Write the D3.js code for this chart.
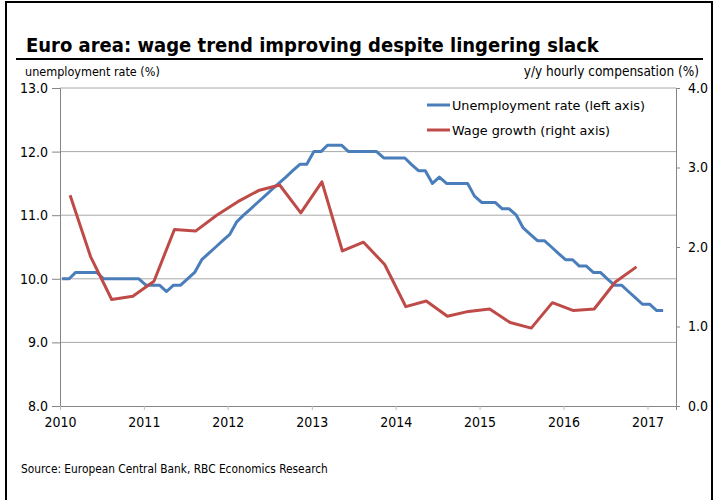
<!DOCTYPE html>
<html lang="en">
	<head>
		<meta charset="utf-8">
		<title>Euro area: wage trend</title>
		<script type="text/javascript" src="https://cdn.jsdelivr.net/npm/d3@7"></script>
		<style type="text/css">
			body { margin: 0; background: #fff; }
			text { font-family: "DejaVu Sans Condensed", "DejaVu Sans", sans-serif; fill: #000; }
		</style>
	</head>

	<body>
		<script type="text/javascript">
			/* monthly unemployment rate, Jan 2010 - Mar 2017 (left axis, %) */
			var unemployment = [
				10.0, 10.0, 10.1, 10.1, 10.1, 10.1, 10.0, 10.0, 10.0, 10.0, 10.0, 10.0,
				9.9, 9.9, 9.9, 9.8, 9.9, 9.9, 10.0, 10.1, 10.3, 10.4, 10.5, 10.6,
				10.7, 10.9, 11.0, 11.1, 11.2, 11.3, 11.4, 11.5, 11.6, 11.7, 11.8, 11.8,
				12.0, 12.0, 12.1, 12.1, 12.1, 12.0, 12.0, 12.0, 12.0, 12.0, 11.9, 11.9,
				11.9, 11.9, 11.8, 11.7, 11.7, 11.5, 11.6, 11.5, 11.5, 11.5, 11.5, 11.3,
				11.2, 11.2, 11.2, 11.1, 11.1, 11.0, 10.8, 10.7, 10.6, 10.6, 10.5, 10.4,
				10.3, 10.3, 10.2, 10.2, 10.1, 10.1, 10.0, 9.9, 9.9, 9.8, 9.7, 9.6,
				9.6, 9.5, 9.5 ];
			/* quarterly wage growth, Q1 2010 - Q4 2016 (right axis, y/y %) */
			var wages = [
				2.65, 1.88, 1.34, 1.38, 1.57, 2.22, 2.20, 2.40, 2.57, 2.71, 2.78, 2.43,
				2.82, 1.95, 2.06, 1.78, 1.25, 1.32, 1.13, 1.19, 1.22, 1.05, 0.98, 1.30,
				1.20, 1.22, 1.56, 1.75 ];
			var years = [2010, 2011, 2012, 2013, 2014, 2015, 2016, 2017];
			var leftTicks = [8, 9, 10, 11, 12, 13];
			var rightTicks = [0, 1, 2, 3, 4];
			var seriesNames = ["Unemployment rate (left axis)", "Wage growth (right axis)"];
			var seriesColors = ["#4a7ebb", "#be4b48"];

			var svgWidth = 717;
			var svgHeight = 500;

			var svg = d3.select("body")
				.append("svg")
				.attr("width", svgWidth)
				.attr("height", svgHeight);

			// outer frame and heading
			svg.append("rect")
				.attr("x", 6).attr("y", 2)
				.attr("width", 706).attr("height", 520)
				.attr("fill", "none").attr("stroke", "#000").attr("stroke-width", 2);

			svg.append("text")
				.attr("x", 26).attr("y", 52)
				.attr("font-size", "20px").attr("font-weight", "bold")
				.text("Euro area: wage trend improving despite lingering slack");

			svg.append("line")
				.attr("x1", 16).attr("x2", 703).attr("y1", 59).attr("y2", 59)
				.attr("stroke", "#000").attr("stroke-width", 2);

			svg.append("text")
				.attr("x", 25).attr("y", 76).attr("font-size", "12.5px")
				.text("unemployment rate (%)");
			svg.append("text")
				.attr("x", 699).attr("y", 76).attr("font-size", "13.5px")
				.attr("text-anchor", "end")
				.text("y/y hourly compensation (%)");

			svg.append("text")
				.attr("x", 21).attr("y", 473).attr("font-size", "11.8px")
				.text("Source: European Central Bank, RBC Economics Research");

			// scales
			var x = d3.scaleTime()
				.domain([new Date(2010, 0, 1), new Date(2017, 4, 5)])
				.range([60, 676]);
			var yLeft = d3.scaleLinear().domain([8, 13]).range([406, 88]);
			var yRight = d3.scaleLinear().domain([0, 4]).range([406, 88]);

			// gridlines
			svg.append("g")
				.selectAll("line")
				.data(leftTicks.slice(1))
				.enter()
				.append("line")
				.attr("x1", 60).attr("x2", 676)
				.attr("y1", function(d) { return yLeft(d); })
				.attr("y2", function(d) { return yLeft(d); })
				.attr("stroke", "#a8a8a8").attr("stroke-width", 1);

			// axes
			var axisColor = "#868686";
			var gLeft = svg.append("g")
				.attr("transform", "translate(60,0)")
				.call(d3.axisLeft(yLeft).tickValues(leftTicks).tickSize(8).tickPadding(4)
					.tickFormat(d3.format(".1f")));
			var gRight = svg.append("g")
				.attr("transform", "translate(676,0)")
				.call(d3.axisRight(yRight).tickValues(rightTicks).tickSize(4).tickPadding(8)
					.tickFormat(d3.format(".1f")));
			var gBottom = svg.append("g")
				.attr("transform", "translate(0,406)")
				.call(d3.axisBottom(x)
					.tickValues(years.map(function(y) { return new Date(y, 0, 1); }))
					.tickSize(4).tickPadding(7)
					.tickFormat(d3.timeFormat("%Y")));

			[gLeft, gRight, gBottom].forEach(function(g) {
				g.selectAll(".domain").attr("stroke", axisColor);
				g.selectAll(".tick line").attr("stroke", axisColor);
				g.selectAll("text")
					.attr("font-size", "14px").attr("fill", "#000");
			});
			gBottom.selectAll(".tick line").attr("stroke", "#bbb");

			// lines
			var unempLine = d3.line()
				.x(function(d, i) { return x(new Date(2010, i, 10)); })
				.y(function(d) { return yLeft(d); });
			var wageLine = d3.line()
				.x(function(d, i) { return x(new Date(2010, 3 * i + 1, 14)); })
				.y(function(d) { return yRight(d); });

			svg.append("path")
				.datum(unemployment)
				.attr("d", unempLine)
				.attr("fill", "none").attr("stroke", seriesColors[0])
				.attr("stroke-width", 3).attr("stroke-linejoin", "round");
			svg.append("path")
				.datum(wages)
				.attr("d", wageLine)
				.attr("fill", "none").attr("stroke", seriesColors[1])
				.attr("stroke-width", 3).attr("stroke-linejoin", "round");

			// legend
			var legend = svg.append("g")
				.selectAll("g")
				.data(seriesNames)
				.enter()
				.append("g")
				.attr("transform", function(d, i) { return "translate(427," + (105 + i * 25) + ")"; });
			legend.append("line")
				.attr("x1", 0).attr("x2", 23)
				.attr("stroke", function(d, i) { return seriesColors[i]; })
				.attr("stroke-width", 3);
			legend.append("text")
				.attr("x", 25).attr("y", 4.5)
				.style("font-family", "'DejaVu Sans', sans-serif")
				.attr("font-size", "12.8px")
				.text(function(d) { return d; });
		</script>
	</body>
</html>
